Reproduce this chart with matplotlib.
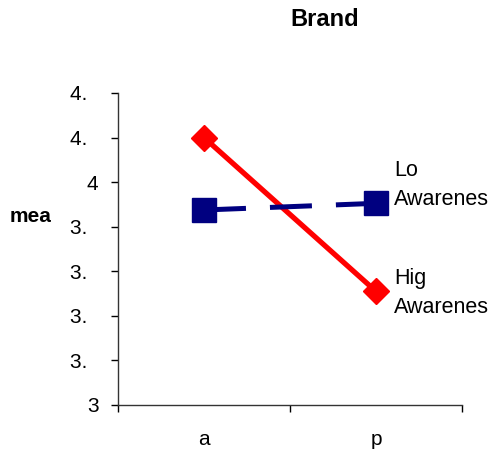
import matplotlib
matplotlib.use("Agg")
import matplotlib.pyplot as plt

plt.rcParams['font.family'] = ['Liberation Sans', 'DejaVu Sans']

categories = ["a", "p"]
high_awareness = [4.2, 3.51]
low_awareness = [3.875, 3.905]
series_labels = ["Lo\nAwarenes", "Hig\nAwarenes"]
y_ticks = [3.0, 3.2, 3.4, 3.6, 3.8, 4.0, 4.2, 4.4]
y_tick_labels = ["3", "3.", "3.", "3.", "3.", "4", "4.", "4."]
title = "Brand"
y_label = "mea"

fig = plt.figure(figsize=(4.89, 4.51), dpi=100)
ax = fig.add_axes([118/489, 1-405/451, (462-118)/489, (405-93)/451])

x = list(range(len(categories)))
ax.plot(x, high_awareness, color='#ff0000', lw=3.8, marker='D', ms=13.5,
        solid_capstyle='butt', zorder=3)
ax.plot(x, low_awareness, color='#000080', lw=3.6, marker='s', ms=17,
        ls=(0, (8.4, 4.8)), zorder=4)

ax.set_xlim(-0.5, len(categories) - 0.5)
ax.set_ylim(y_ticks[0], y_ticks[-1])

ax.set_xticks([i - 0.5 for i in range(len(categories) + 1)])
ax.set_xticklabels([])
ax.set_xticks(x, minor=True)
ax.set_xticklabels(categories, minor=True, fontsize=15)
ax.tick_params(axis='x', which='minor', length=0, pad=18)
ax.tick_params(axis='x', which='major', length=5, width=1, direction='out')

ax.set_yticks(y_ticks)
ax.set_yticklabels([lab + ("\u2007" if lab.endswith(".") else "") for lab in y_tick_labels], fontsize=15)
ax.tick_params(axis='y', length=5, width=1, pad=9)

for s in ['top', 'right']:
    ax.spines[s].set_visible(False)
for s in ['left', 'bottom']:
    ax.spines[s].set_linewidth(1)
    ax.spines[s].set_color('#333333')

# series labels at end points
ax.annotate(series_labels[0], xy=(x[-1], low_awareness[-1]), xytext=(13, 13),
            textcoords='offset points', ha='left', va='center', fontsize=15.5,
            linespacing=1.5)
ax.annotate(series_labels[1], xy=(x[-1], high_awareness[-1]), xytext=(13, -1.5),
            textcoords='offset points', ha='left', va='center', fontsize=15.5,
            linespacing=1.5)

fig.text(325/489, 1-20/451, title, ha='center', va='center', fontsize=17, fontweight='bold')
fig.text(31/489, 1-216/451, y_label, ha='center', va='center', fontsize=15, fontweight='bold')

fig.savefig("out.png", dpi=100)
